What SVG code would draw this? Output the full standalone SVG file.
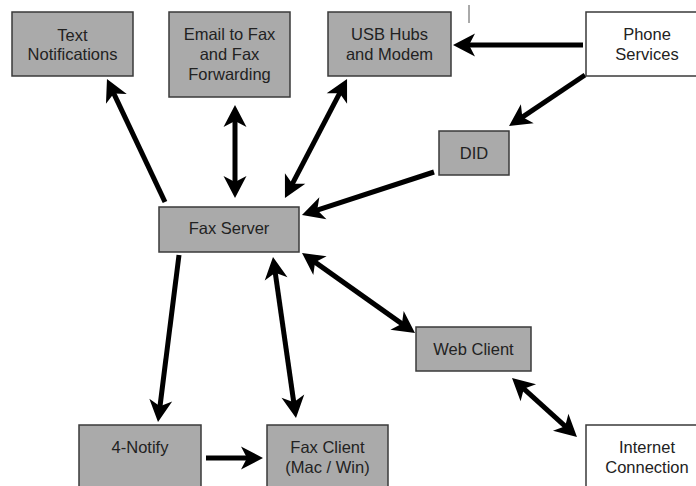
<svg xmlns="http://www.w3.org/2000/svg" width="696" height="486" viewBox="0 0 696 486">
  <style>
    .box { fill: #aaaaaa; stroke: #3a3a3a; stroke-width: 1.5; }
    .ext { fill: #ffffff; stroke: #3a3a3a; stroke-width: 1.5; }
    .lbl { font-family: "Liberation Sans", Arial, sans-serif; font-size: 16.5px; fill: #222222; text-anchor: middle; }
    .link { stroke: #000000; stroke-width: 5; fill: none; }
    .one { marker-end: url(#head); }
    .two { marker-start: url(#head); marker-end: url(#head); }
  </style>
  <defs>
    <marker id="head" markerUnits="userSpaceOnUse" viewBox="-12 -12 26 24" refX="0" refY="0" markerWidth="26" markerHeight="24" orient="auto-start-reverse" overflow="visible">
      <path d="M12,0 L-10,-11.5 L-4,0 L-10,11.5 Z" fill="#000000"/>
    </marker>
  </defs>
  <rect width="696" height="486" fill="#ffffff"/>

  <!-- stray tick near the top -->
  <line x1="469" y1="5" x2="469" y2="23" stroke="#555555" stroke-width="1"/>

  <g id="connectors">
    <path class="link one" d="M165,202 L112.1,89.9"/>
    <path class="link two" d="M235,117 L235,186"/>
    <path class="link two" d="M341.5,89.6 L290.5,187.4"/>
    <path class="link one" d="M585,75 L519,119.3"/>
    <path class="link one" d="M434,172 L313.4,211.3"/>
    <path class="link one" d="M583,45 L465,45"/>
    <path class="link one" d="M179,255 L159.5,410.1"/>
    <path class="link two" d="M274.7,268.9 L294.3,406.1"/>
    <path class="link two" d="M311.8,259.9 L405.2,326.1"/>
    <path class="link two" d="M520.9,386.1 L568.1,428.9"/>
    <path class="link one" d="M206,458 L251,458"/>
  </g>

  <g id="text-notifications">
    <rect class="box" x="12" y="12" width="121" height="64"/>
    <text class="lbl" x="72.5" y="41">Text</text>
    <text class="lbl" x="72.5" y="60">Notifications</text>
  </g>
  <g id="email-to-fax">
    <rect class="box" x="169" y="12" width="121" height="85"/>
    <text class="lbl" x="229.5" y="40">Email to Fax</text>
    <text class="lbl" x="229.5" y="60">and Fax</text>
    <text class="lbl" x="229.5" y="80">Forwarding</text>
  </g>
  <g id="usb-hubs">
    <rect class="box" x="328" y="12" width="123" height="64"/>
    <text class="lbl" x="389.5" y="40">USB Hubs</text>
    <text class="lbl" x="389.5" y="60">and Modem</text>
  </g>
  <g id="phone-services">
    <rect class="ext" x="586" y="12" width="122" height="64"/>
    <text class="lbl" x="647" y="40">Phone</text>
    <text class="lbl" x="647" y="60">Services</text>
  </g>
  <g id="did">
    <rect class="box" x="439" y="131" width="70" height="44"/>
    <text class="lbl" x="474" y="159">DID</text>
  </g>
  <g id="fax-server">
    <rect class="box" x="159" y="207" width="140" height="45"/>
    <text class="lbl" x="229" y="234">Fax Server</text>
  </g>
  <g id="web-client">
    <rect class="box" x="416" y="327" width="115" height="44"/>
    <text class="lbl" x="473.5" y="355">Web Client</text>
  </g>
  <g id="four-notify">
    <rect class="box" x="79" y="425" width="122" height="64"/>
    <text class="lbl" x="140" y="453">4-Notify</text>
  </g>
  <g id="fax-client">
    <rect class="box" x="267" y="425" width="121" height="64"/>
    <text class="lbl" x="327.5" y="453">Fax Client</text>
    <text class="lbl" x="327.5" y="473">(Mac / Win)</text>
  </g>
  <g id="internet-connection">
    <rect class="ext" x="586" y="425" width="122" height="64"/>
    <text class="lbl" x="647" y="453">Internet</text>
    <text class="lbl" x="647" y="473">Connection</text>
  </g>
</svg>
